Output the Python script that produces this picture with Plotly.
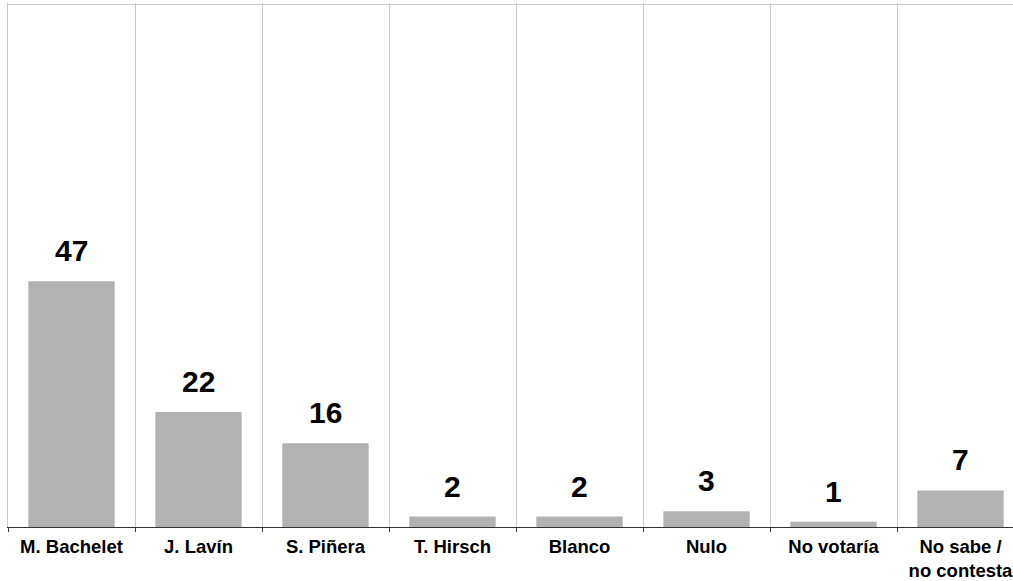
import plotly.graph_objects as go

categories = ["M. Bachelet", "J. Lavín", "S. Piñera", "T. Hirsch", "Blanco", "Nulo", "No votaría", "No sabe /<br>no contesta"]
values = [47, 22, 16, 2, 2, 3, 1, 7]

fig = go.Figure()
fig.add_trace(go.Bar(
    x=categories, y=values,
    marker=dict(color="#b2b2b2", line=dict(width=0)),
    width=0.68,
    hoverinfo="skip",
))

for c, v in zip(categories, values):
    fig.add_annotation(
        x=c, y=v, text=str(v), showarrow=False,
        yanchor="bottom", yshift=12,
        font=dict(family="Liberation Sans, Arial, sans-serif", size=30, color="#000000", weight="bold"),
    )

fig.update_layout(
    width=1013, height=581,
    margin=dict(l=8, r=0, t=3, b=54),
    paper_bgcolor="white", plot_bgcolor="white",
    showlegend=False,
    xaxis=dict(
        type="category",
        range=[-0.5, -0.5 + 1005 / 127],
        tickson="boundaries",
        showgrid=True, gridcolor="#c8c8c8", gridwidth=1,
        ticks="outside", ticklen=4, tickcolor="#333333",
        ticklabelstandoff=3,
        showline=True, linecolor="#333333", linewidth=1,
        tickfont=dict(family="Liberation Sans, Arial, sans-serif", size=18.5, color="#000000", weight="bold"),
        fixedrange=True,
    ),
    yaxis=dict(
        range=[0, 100.2],
        tickvals=[100],
        showticklabels=False,
        showgrid=True, gridcolor="#c8c8c8", gridwidth=1,
        zeroline=False,
        showline=True, linecolor="#c8c8c8", linewidth=1,
        fixedrange=True,
    ),
)

fig.write_html("out.html", config={"displayModeBar": False},
               post_script="document.body.style.margin='0';document.body.style.overflow='hidden';")
